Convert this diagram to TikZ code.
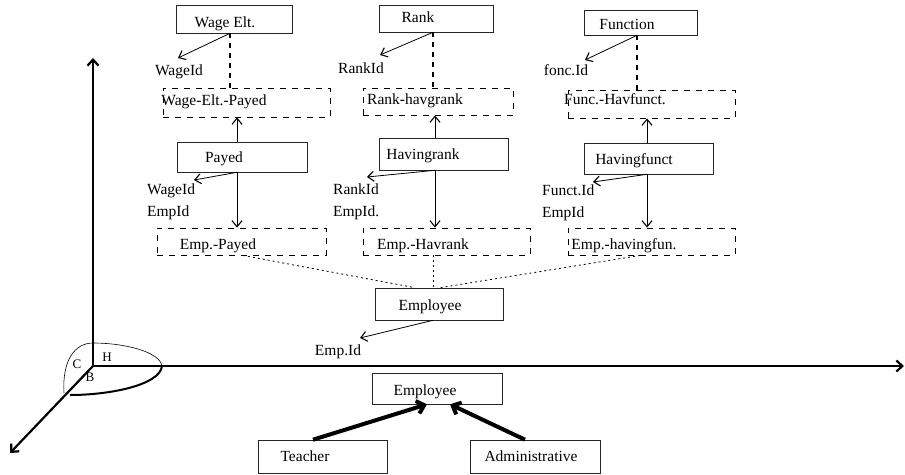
\documentclass[tikz,border=0pt]{standalone}
\usepackage{fontspec}
\setmainfont{Liberation Serif}
\usetikzlibrary{arrows.meta,fit}
\begin{document}
\begin{tikzpicture}[x=1pt,y=-1pt,
  font=\fontsize{15.5}{18}\selectfont,
  ent/.style={draw=black!85, line width=0.6pt, inner sep=0pt},
  rel/.style={draw, dash pattern=on 6pt off 6pt, line width=0.9pt, inner sep=0pt},
  txt/.style={inner sep=0pt, anchor=base},
  ltxt/.style={inner sep=0pt, anchor=base west},
  ar/.style={-{Straight Barb[length=6pt,width=10pt,line width=1.1pt]}, line width=0.8pt},
  dv/.style={dash pattern=on 5pt off 5pt, line width=1.1pt},
  dt/.style={dash pattern=on 2pt off 3pt, line width=0.8pt},
  axis/.style={line width=2.2pt, -{Straight Barb[length=6pt,width=11pt]}},
  inh/.style={line width=4pt, -{Straight Barb[length=7pt,width=13pt]}}
]
\useasboundingbox (0,0) rectangle (905,474);

% ---- axes ----
\coordinate (O) at (93,366);
\coordinate (ytop) at (93,58);
\coordinate (xend) at (904,366);
\coordinate (zend) at (10,453);
\draw[axis] (O) -- (ytop);
\draw[axis] (O) -- (xend);
\draw[axis] (O) -- (zend);
\draw[line width=0.6pt] (64,393) .. controls (62,360) and (75,343) .. (93,343)
   .. controls (125,343) and (160,352) .. (162,366);
\draw[line width=2pt] (162,366) .. controls (160,385) and (110,395) .. (70,395);
\node[font=\fontsize{13}{15}\selectfont, inner sep=0pt] (labC) at (77,364) {C};
\node[font=\fontsize{13}{15}\selectfont, inner sep=0pt] (labH) at (107,357) {H};
\node[font=\fontsize{13}{15}\selectfont, inner sep=0pt] (labB) at (90,377) {B};

% ---- top entities ----
\node[ent, fit={(176,5) (292,33)}] (wage) {};
\node[txt] (wageT) at (225,27) {Wage Elt.};
\node[ent, fit={(379,5) (493,32)}] (rank) {};
\node[txt] (rankT) at (418,22) {Rank};
\node[ent, fit={(584,10) (697,35)}] (func) {};
\node[txt] (funcT) at (627,29) {Function};

\node[txt] (wid1) at (179,75) {WageId};
\node[txt] (rid1) at (361,73) {RankId};
\node[txt] (fid1) at (566,75) {fonc.Id};
\coordinate (wid1tip) at (178,58);
\coordinate (rid1tip) at (380,55);
\coordinate (fid1tip) at (585,60);

% ---- upper relations ----
\node[rel, fit={(163,88) (330,117)}] (wep) {};
\node[txt] (wepT) at (214,105) {Wage-Elt.-Payed};
\node[rel, fit={(363,88) (513,115)}] (rhr) {};
\node[txt] (rhrT) at (415,104) {Rank-havgrank};
\node[rel, fit={(568,90) (735,118)}] (fhf) {};
\node[txt] (fhfT) at (615,104) {Func.-Havfunct.};

% ---- middle entities ----
\node[ent, fit={(177,142) (307,172)}] (payed) {};
\node[txt] (payedT) at (224,162) {Payed};
\node[ent, fit={(379,138) (508,170)}] (hrank) {};
\node[txt] (hrankT) at (423,159) {Havingrank};
\node[ent, fit={(584,143) (713,174)}] (hfunct) {};
\node[txt] (hfunctT) at (634,164) {Havingfunct};

\node[ltxt] (wid2) at (147,194) {WageId};
\node[ltxt] (eid2) at (147,216) {EmpId};
\node[ltxt] (rid2) at (333,194) {RankId};
\node[ltxt] (eid3) at (333,216) {EmpId.};
\node[ltxt] (fid2) at (542,195) {Funct.Id};
\node[ltxt] (eid4) at (542,217) {EmpId};
\coordinate (wid2tip) at (194,180);
\coordinate (rid2tip) at (367,177);
\coordinate (fid2tip) at (593,182);

% ---- lower relations ----
\node[rel, fit={(157,228) (326,255)}] (epay) {};
\node[txt] (epayT) at (218,249) {Emp.-Payed};
\node[rel, fit={(363,228) (530,255)}] (ehr) {};
\node[txt] (ehrT) at (423,249) {Emp.-Havrank};
\node[rel, fit={(568,228) (735,255)}] (ehf) {};
\node[txt] (ehfT) at (624,249) {Emp.-havingfun.};

% ---- employee ----
\node[ent, fit={(375,288) (503,320)}] (emp1) {};
\node[txt] (emp1T) at (430,310) {Employee};
\node[txt] (empid) at (338,355) {Emp.Id};
\coordinate (empidtip) at (360,338);

% ---- hierarchy ----
\node[ent, fit={(372,373) (502,404)}] (emp2) {};
\node[txt] (emp2T) at (425,395) {Employee};
\node[ent, fit={(258,440) (387,473)}] (teacher) {};
\node[txt] (teacherT) at (305,461) {Teacher};
\node[ent, fit={(470,440) (600,473)}] (admin) {};
\node[txt] (adminT) at (531,461) {Administrative};

% ---- connectors: top ----
\draw[ar] ([xshift=-4pt]wage.south) -- (wid1tip);
\draw[dv] ([xshift=-4pt]wage.south) -- ([xshift=-4pt]wage.south |- wep.north);
\draw[ar] ([xshift=-3pt]rank.south) -- (rid1tip);
\draw[dv] ([xshift=-3pt]rank.south) -- ([xshift=-3pt]rank.south |- rhr.north);
\draw[ar] ([xshift=-3.5pt]func.south) -- (fid1tip);
\draw[dv] ([xshift=-3.5pt]func.south) -- ([xshift=-3.5pt]func.south |- fhf.north);

% ---- connectors: middle ----
\draw[ar] ([xshift=-5pt]payed.north) -- ([xshift=-5pt]payed.north |- wep.south);
\draw[ar] ([xshift=-5pt]payed.south) -- (wid2tip);
\draw[ar] ([xshift=-5pt]payed.south) -- ([xshift=-5pt]payed.south |- epay.north);
\draw[ar] ([xshift=-8.5pt]hrank.north) -- ([xshift=-8.5pt]hrank.north |- rhr.south);
\draw[ar] ([xshift=-8.5pt]hrank.south) -- (rid2tip);
\draw[ar] ([xshift=-8.5pt]hrank.south) -- ([xshift=-8.5pt]hrank.south |- ehr.north);
\draw[ar] ([xshift=-1.5pt]hfunct.north) -- ([xshift=-1.5pt]hfunct.north |- fhf.south);
\draw[ar] ([xshift=-1.5pt]hfunct.south) -- (fid2tip);
\draw[ar] ([xshift=-1.5pt]hfunct.south) -- ([xshift=-1.5pt]hfunct.south |- ehf.north);

% ---- connectors: to employee ----
\draw[dt] ([xshift=1.5pt]epay.south) -- ([xshift=-24pt]emp1.north);
\draw[dt] ([xshift=-11.5pt]ehf.south) -- ([xshift=1pt]emp1.north);
\draw[dt] ([xshift=-6pt]emp1.north |- ehr.south) -- ([xshift=-6pt]emp1.north);
\draw[ar] ([xshift=-6pt]emp1.south) -- (empidtip);

% ---- inheritance ----
\draw[inh] ([xshift=-9.5pt]teacher.north) -- ([xshift=-10pt]emp2.south);
\draw[inh] ([xshift=-10pt]admin.north) -- ([xshift=13pt]emp2.south);
\end{tikzpicture}
\end{document}
